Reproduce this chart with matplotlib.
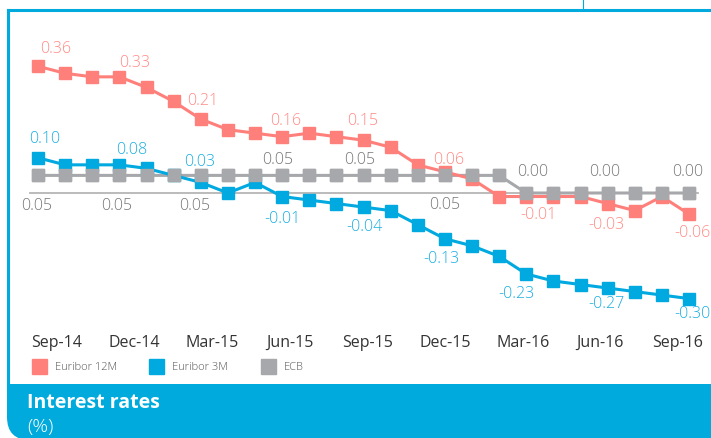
import numpy as np
import matplotlib
matplotlib.use("Agg")
import matplotlib.pyplot as plt
from matplotlib.patches import Rectangle, PathPatch
from matplotlib.path import Path
import matplotlib.transforms as mtransforms

plt.rcParams["font.family"] = ["Open Sans", "DejaVu Sans"]

# Data: monthly rates (%), Sep-14 .. Sep-16
months = ["Sep-14", "Oct-14", "Nov-14", "Dec-14", "Jan-15", "Feb-15", "Mar-15",
          "Apr-15", "May-15", "Jun-15", "Jul-15", "Aug-15", "Sep-15", "Oct-15",
          "Nov-15", "Dec-15", "Jan-16", "Feb-16", "Mar-16", "Apr-16", "May-16",
          "Jun-16", "Jul-16", "Aug-16", "Sep-16"]
euribor_12m = [0.36, 0.34, 0.33, 0.33, 0.30, 0.26, 0.21, 0.18, 0.17, 0.16, 0.17, 0.16,
               0.15, 0.13, 0.08, 0.06, 0.04, -0.01, -0.01, -0.01, -0.01, -0.03, -0.05,
               -0.01, -0.06]
euribor_3m = [0.10, 0.08, 0.08, 0.08, 0.07, 0.05, 0.03, 0.00, 0.03, -0.01, -0.02, -0.03,
              -0.04, -0.05, -0.09, -0.13, -0.15, -0.18, -0.23, -0.25, -0.26, -0.27, -0.28,
              -0.29, -0.30]
ecb = [0.05] * 18 + [0.00] * 7
tick_labels = ["Sep-14", "Dec-14", "Mar-15", "Jun-15", "Sep-15", "Dec-15", "Mar-16",
               "Jun-16", "Sep-16"]
labelled = [0, 3, 6, 9, 12, 15, 18, 21, 24]

# label offsets in pixels (dx, dy) for each labelled point
red_offsets = [(18, 18), (15, 15), (2, 19), (4, 17), (-1, 20), (4, 13), (12, -17), (-1, -20), (3, -18)]
blue_offsets = [(7, 20), (12, 16), (-1, 21), (0, -21), (1, -19), (-3, -19), (-10, -19), (-1, -15), (3, -14)]
gray_offsets = [(-1, -30), (-3, -30), (-6, -30), (-4, 16), (-4, 16), (0, -29), (6, 22), (-3, 22), (-1, 22)]

RED = "#FF7F7A"
BLUE = "#00A9DF"
GRAY = "#A7A8AB"
BAND = "#00AADC"

W, H = 711, 439
fig = plt.figure(figsize=(W / 100, H / 100), dpi=100)
fig.patch.set_facecolor("white")


def fx(px):
    return px / W


def fy(py):
    return 1 - py / H


ax = fig.add_axes([0, 0, 1, 1])
ax.set_axis_off()
x = np.arange(len(months))
# pixel mapping: x_px = 38 + 27.125*i ; y_px = 194 - 352*v
ax.set_xlim((0 - 38) / 27.125, (W - 38) / 27.125)
ax.set_ylim((194 - H) / 352, 194 / 352)

# zero line
ax.plot([(30 - 38) / 27.125, (698 - 38) / 27.125], [0, 0], color="#B5B5B5", lw=1.3, zorder=1)

ax.plot(x, ecb, color=GRAY, lw=2.2, marker="s", ms=8, zorder=2)
ax.plot(x, euribor_12m, color=RED, lw=2.2, marker="s", ms=8, zorder=3)
ax.plot(x, euribor_3m, color=BLUE, lw=2.2, marker="s", ms=8, zorder=4)
# ECB markers on top where they overlap
ax.plot(x, ecb, color=GRAY, lw=0, marker="s", ms=8, zorder=5)

for series, offs, col in [(euribor_12m, red_offsets, "#FF8A85"),
                          (euribor_3m, blue_offsets, "#1AAEE0"),
                          (ecb, gray_offsets, "#777777")]:
    for i, (dx, dy) in zip(labelled, offs):
        ax.annotate(f"{series[i]:.2f}", (x[i], series[i]), xytext=(dx, dy),
                    textcoords="offset pixels", ha="center", va="center",
                    fontsize=11.5, fontweight="light", color=col, zorder=6)

# month tick labels
tick_pos = np.linspace(0.70, 23.59, len(tick_labels))
trans = mtransforms.blended_transform_factory(ax.transData, fig.transFigure)
for p, lab in zip(tick_pos, tick_labels):
    ax.text(p, fy(343), lab, transform=trans, ha="center", va="center",
            fontsize=11.5, color="#333333")

# legend
for sx, col, lab in [(32, RED, "Euribor 12M"), (149, BLUE, "Euribor 3M"), (261, GRAY, "ECB")]:
    fig.patches.append(Rectangle((fx(sx), fy(375)), fx(15), 15 / H, color=col,
                                 transform=fig.transFigure))
    fig.text(fx(sx + 23), fy(367.5), lab, ha="left", va="center", fontsize=8,
             fontweight="light", color="#555555")

# frame
fig.add_artist(plt.Line2D([fx(8), fx(W)], [fy(11), fy(11)], color=BAND, lw=2.2,
                          transform=fig.transFigure))
fig.add_artist(plt.Line2D([fx(8), fx(8)], [fy(11), fy(390)], color=BAND, lw=2.2,
                          transform=fig.transFigure))
fig.add_artist(plt.Line2D([fx(583), fx(583)], [fy(0), fy(11)], color=BAND, lw=0.8,
                          transform=fig.transFigure))

# bottom band with rounded lower-left corner
verts = [(fx(7), fy(385)), (fx(W + 2), fy(385)), (fx(W + 2), fy(H + 2)), (fx(30), fy(H + 2)),
         (fx(7), fy(H + 2)), (fx(7), fy(418)), (fx(7), fy(385))]
codes = [Path.MOVETO, Path.LINETO, Path.LINETO, Path.LINETO, Path.CURVE3, Path.CURVE3,
         Path.CLOSEPOLY]
fig.patches.append(PathPatch(Path(verts, codes), facecolor=BAND, edgecolor="none",
                             transform=fig.transFigure))
fig.text(fx(27), fy(403), "Interest rates", ha="left", va="center", fontsize=14,
         fontweight="bold", color="white")
fig.text(fx(27), fy(427), "(%)", ha="left", va="center", fontsize=14,
         fontweight="light", color="white")

fig.savefig("out.png", dpi=100)
